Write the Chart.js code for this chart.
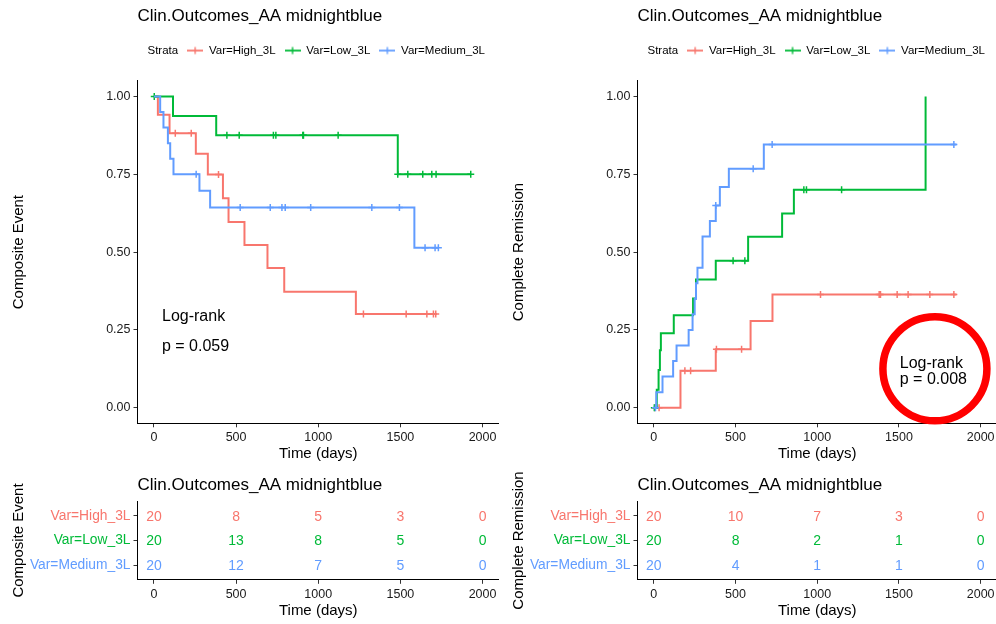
<!DOCTYPE html>
<html><head><meta charset="utf-8">
<script src="https://cdn.jsdelivr.net/npm/chart.js@4.4.1/dist/chart.umd.min.js"></script>
<style>
html,body{margin:0;padding:0;background:#fff;overflow:hidden;width:996px;height:624px;}
canvas{position:absolute;}
</style></head><body>
<canvas id="km1" width="499" height="465" style="left:0;top:0;width:499px;height:465px"></canvas>
<canvas id="km2" width="499" height="465" style="left:498px;top:0;width:499px;height:465px"></canvas>
<canvas id="rt1" width="499" height="155" style="left:0;top:466.5px;width:499px;height:155px"></canvas>
<canvas id="rt2" width="499" height="155" style="left:498px;top:466.5px;width:499px;height:155px"></canvas>
<script>
const FONT = "'Liberation Sans', Arial, sans-serif";
Chart.defaults.font.family = FONT;
Chart.defaults.color = '#000';

const titleText = 'Clin.Outcomes_AA midnightblue';
const strata = ['Var=High_3L', 'Var=Low_3L', 'Var=Medium_3L'];
const colors = ['#F8766D', '#00BA38', '#619CFF'];
const xTicks = [0, 500, 1000, 1500, 2000];
const yTicks = [0, 0.25, 0.5, 0.75, 1];
const riskTimes = [0, 500, 1000, 1500, 2000];

// Composite Event (survival)
const ceHighT = [0, 24, 95, 255, 328, 420, 454, 551, 691, 793, 1229, 1721];
const ceHighS = [1, 0.941, 0.882, 0.816, 0.749, 0.673, 0.597, 0.523, 0.449, 0.373, 0.301, 0.301];
const ceHighC = [130, 227, 393, 1275, 1535, 1661, 1701, 1715];
const ceLowT = [0, 116, 379, 1484, 1928];
const ceLowS = [1, 0.9375, 0.875, 0.75, 0.75];
const ceLowC = [2, 444, 519, 727, 742, 906, 910, 1121, 1484, 1545, 1636, 1691, 1717, 1928];
const ceMedT = [0, 38, 58, 85, 99, 119, 277, 342, 1585, 1731];
const ceMedS = [1, 0.95, 0.90, 0.85, 0.80, 0.75, 0.697, 0.643, 0.514, 0.514];
const ceMedC = [257, 525, 708, 779, 799, 954, 1326, 1494, 1650, 1711, 1731];

// Complete Remission (cumulative)
const crHighT = [0, 163, 379, 592, 726, 1852];
const crHighS = [0, 0.119, 0.188, 0.279, 0.364, 0.364];
const crHighC = [6, 32, 190, 225, 383, 537, 1020, 1379, 1387, 1489, 1556, 1689, 1836];
const crLowT = [0, 18, 29, 37, 43, 122, 240, 258, 379, 577, 785, 857, 1663];
const crLowS = [0, 0.058, 0.121, 0.185, 0.239, 0.297, 0.351, 0.412, 0.472, 0.549, 0.624, 0.70, 1.0];
const crLowC = [3, 485, 557, 918, 934, 1149];
const crMedT = [0, 15, 53, 118, 139, 213, 237, 250, 258, 267, 298, 343, 379, 404, 459, 673, 1852];
const crMedS = [0, 0.05, 0.10, 0.15, 0.20, 0.25, 0.30, 0.35, 0.40, 0.45, 0.55, 0.60, 0.65, 0.709, 0.768, 0.846, 0.846];
const crMedC = [10, 379, 608, 724, 1836];

// Numbers at risk
const ceRiskHigh = [20, 8, 5, 3, 0];
const ceRiskLow = [20, 13, 8, 5, 0];
const ceRiskMed = [20, 12, 7, 5, 0];
const crRiskHigh = [20, 10, 7, 3, 0];
const crRiskLow = [20, 8, 2, 1, 0];
const crRiskMed = [20, 4, 1, 1, 0];

function stepAt(times, vals, t) {
  let v = vals[0];
  for (let i = 0; i < times.length; i++) if (times[i] <= t) v = vals[i];
  return v;
}
function legendMarker(color) {
  const c = document.createElement('canvas');
  c.width = 16; c.height = 10;
  const g = c.getContext('2d');
  g.strokeStyle = color; g.lineWidth = 1.8;
  g.beginPath(); g.moveTo(0, 5); g.lineTo(16, 5); g.stroke();
  g.lineWidth = 1.4;
  g.beginPath(); g.moveTo(8, 1.5); g.lineTo(8, 8.5); g.stroke();
  return c;
}
const blank = document.createElement('canvas'); blank.width = 1; blank.height = 1;
const markers = colors.map(legendMarker);

const LEG_BOX = 16, LEG_FONT = 11.5, LEG_PAD = 9;

const legendShift = {
  id: 'legendShift',
  beforeUpdate(chart, args, opts) {
    const lg = chart.legend;
    if (lg && !lg._patched) {
      const f = lg.fit;
      lg.fit = function () { f.call(this); this.height += opts.extra || 0; };
      lg._patched = true;
    }
  },
  afterLayout(chart, args, opts) {
    const lg = chart.legend;
    if (lg) {
      // put the "Strata" text at chartArea.left + inset
      const dx = chart.chartArea.left + opts.inset - (LEG_BOX + LEG_FONT / 2) - LEG_PAD - lg.left;
      lg.left += dx; lg.right += dx;
    }
  }
};

const annot = {
  id: 'annot',
  afterDraw(chart, args, opts) {
    const {ctx, scales: {x, y}} = chart;
    ctx.save();
    if (opts.circle) {
      const c = opts.circle;
      ctx.strokeStyle = '#FF0000'; ctx.lineWidth = c.lw;
      ctx.beginPath();
      ctx.ellipse(x.getPixelForValue(c.x), y.getPixelForValue(c.y), c.rx, c.ry, 0, 0, Math.PI * 2);
      ctx.stroke();
    }
    (opts.texts || []).forEach(t => {
      ctx.font = '16px ' + FONT; ctx.fillStyle = '#000';
      ctx.textAlign = 'left'; ctx.textBaseline = 'middle';
      ctx.fillText(t.text, x.getPixelForValue(t.x), y.getPixelForValue(t.y));
    });
    ctx.restore();
  }
};

const riskText = {
  id: 'riskText',
  afterDatasetsDraw(chart, args, opts) {
    const ctx = chart.ctx;
    ctx.save();
    ctx.font = '14px ' + FONT; ctx.textAlign = 'center'; ctx.textBaseline = 'middle';
    opts.risks.forEach((row, i) => {
      const meta = chart.getDatasetMeta(i);
      ctx.fillStyle = colors[i];
      meta.data.forEach((pt, k) => ctx.fillText(String(row[k]), pt.x, pt.y + 1));
    });
    ctx.restore();
  }
};

function xScale(h) {
  return {
    type: 'linear', min: -100, max: 2100,
    afterBuildTicks: s => { s.ticks = xTicks.map(v => ({value: v})); },
    grid: {drawOnChartArea: false, drawTicks: true, tickLength: 4, color: '#333'},
    border: {display: true, color: '#000', width: 1},
    ticks: {font: {size: 12.5}, color: '#1a1a1a', padding: 3, maxRotation: 0, autoSkip: false,
      callback: v => String(v)},
    title: {display: true, text: 'Time (days)', font: {size: 15}, color: '#000', padding: {top: 0, bottom: 2}},
    afterFit: s => { s.height = h; s.paddingLeft = 0; s.paddingRight = 0; }
  };
}

function kmChart(id, yTitle, sets, cens, yW, yPad, annotOpts) {
  const datasets = [];
  sets.forEach((s, i) => {
    datasets.push({
      label: strata[i], data: s.t.map((t, k) => ({x: t, y: s.v[k]})),
      borderColor: colors[i], backgroundColor: colors[i], borderWidth: 2,
      stepped: true, pointRadius: 0, fill: false, order: 3 - i
    });
  });
  cens.forEach((c, i) => {
    datasets.push({
      label: strata[i] + ' censor', data: c.map(t => ({x: t, y: stepAt(sets[i].t, sets[i].v, t)})),
      showLine: false, pointStyle: 'cross', pointRadius: 3.5, borderWidth: 1.5,
      borderColor: colors[i], backgroundColor: colors[i], order: 3 - i
    });
  });
  return new Chart(document.getElementById(id), {
    type: 'line',
    data: {datasets},
    options: {
      responsive: false, animation: false, events: [],
      layout: {padding: 0, autoPadding: false},
      plugins: {
        title: {display: true, text: titleText, align: 'start', fullSize: false,
          font: {size: 17, weight: 'normal'}, color: '#000', padding: {top: 6.6, bottom: 8.8}},
        legend: {display: true, position: 'top', align: 'start', fullSize: true,
          labels: {usePointStyle: true, pointStyleWidth: LEG_BOX, padding: LEG_PAD, font: {size: LEG_FONT}, color: '#000',
            generateLabels: () => [{text: 'Strata', pointStyle: blank, fillStyle: 'rgba(0,0,0,0)', strokeStyle: 'rgba(0,0,0,0)', lineWidth: 0, hidden: false}]
              .concat(strata.map((s, i) => ({text: s, pointStyle: markers[i], fillStyle: colors[i], strokeStyle: colors[i], lineWidth: 0, hidden: false})))}},
        tooltip: {enabled: false},
        legendShift: {inset: 10, extra: 14.6},
        annot: annotOpts
      },
      scales: {
        x: xScale(41.7),
        y: {
          type: 'linear', min: -0.05, max: 1.05,
          afterBuildTicks: s => { s.ticks = yTicks.map(v => ({value: v})); },
          grid: {drawOnChartArea: false, drawTicks: true, tickLength: 4, color: '#333'},
          border: {display: true, color: '#000', width: 1},
          ticks: {font: {size: 12.5}, color: '#1a1a1a', padding: 3, callback: v => Number(v).toFixed(2)},
          title: {display: true, text: yTitle, font: {size: 15}, color: '#000', padding: {top: yPad, bottom: 0}},
          afterFit: s => { s.width = yW; s.paddingTop = 0; s.paddingBottom = 0; }
        }
      }
    },
    plugins: [legendShift, annot]
  });
}

function riskChart(id, yTitle, risks, yW, yPad) {
  const datasets = risks.map((r, i) => ({
    label: strata[i], data: riskTimes.map(t => ({x: t, y: i + 1})),
    showLine: false, pointRadius: 0
  }));
  return new Chart(document.getElementById(id), {
    type: 'line',
    data: {datasets},
    options: {
      responsive: false, animation: false, events: [],
      layout: {padding: 0, autoPadding: false},
      plugins: {
        title: {display: true, text: titleText, align: 'start', fullSize: false,
          font: {size: 17, weight: 'normal'}, color: '#000', padding: {top: 7.8, bottom: 6.0}},
        legend: {display: false},
        tooltip: {enabled: false},
        riskText: {risks}
      },
      scales: {
        x: xScale(42.2),
        y: {
          type: 'linear', min: 0.4, max: 3.6, reverse: true,
          afterBuildTicks: s => { s.ticks = [1, 2, 3].map(v => ({value: v})); },
          grid: {drawOnChartArea: false, drawTicks: true, tickLength: 4, color: '#333'},
          border: {display: true, color: '#000', width: 1},
          ticks: {font: {size: 13.8}, padding: 3, callback: v => strata[Math.round(v) - 1],
            color: c => colors[Math.round(c.tick.value) - 1]},
          title: {display: true, text: yTitle, font: {size: 15}, color: '#000', padding: {top: yPad, bottom: 0}},
          afterFit: s => { s.width = yW; s.paddingTop = 0; s.paddingBottom = 0; }
        }
      }
    },
    plugins: [riskText]
  });
}

kmChart('km1', 'Composite Event',
  [{t: ceHighT, v: ceHighS}, {t: ceLowT, v: ceLowS}, {t: ceMedT, v: ceMedS}],
  [ceHighC, ceLowC, ceMedC], 137.5, 10,
  {texts: [{text: 'Log-rank', x: 49, y: 0.294}, {text: 'p = 0.059', x: 49, y: 0.198}]});

kmChart('km2', 'Complete Remission',
  [{t: crHighT, v: crHighS}, {t: crLowT, v: crLowS}, {t: crMedT, v: crMedS}],
  [crHighC, crLowC, crMedC], 139.5, 12,
  {circle: {x: 1720, y: 0.125, rx: 52, ry: 52, lw: 7.5},
   texts: [{text: 'Log-rank', x: 1505, y: 0.143}, {text: 'p = 0.008', x: 1505, y: 0.092}]});

riskChart('rt1', 'Composite Event', [ceRiskHigh, ceRiskLow, ceRiskMed], 137.5, 10);
riskChart('rt2', 'Complete Remission', [crRiskHigh, crRiskLow, crRiskMed], 139.5, 12);
</script>
</body></html>
